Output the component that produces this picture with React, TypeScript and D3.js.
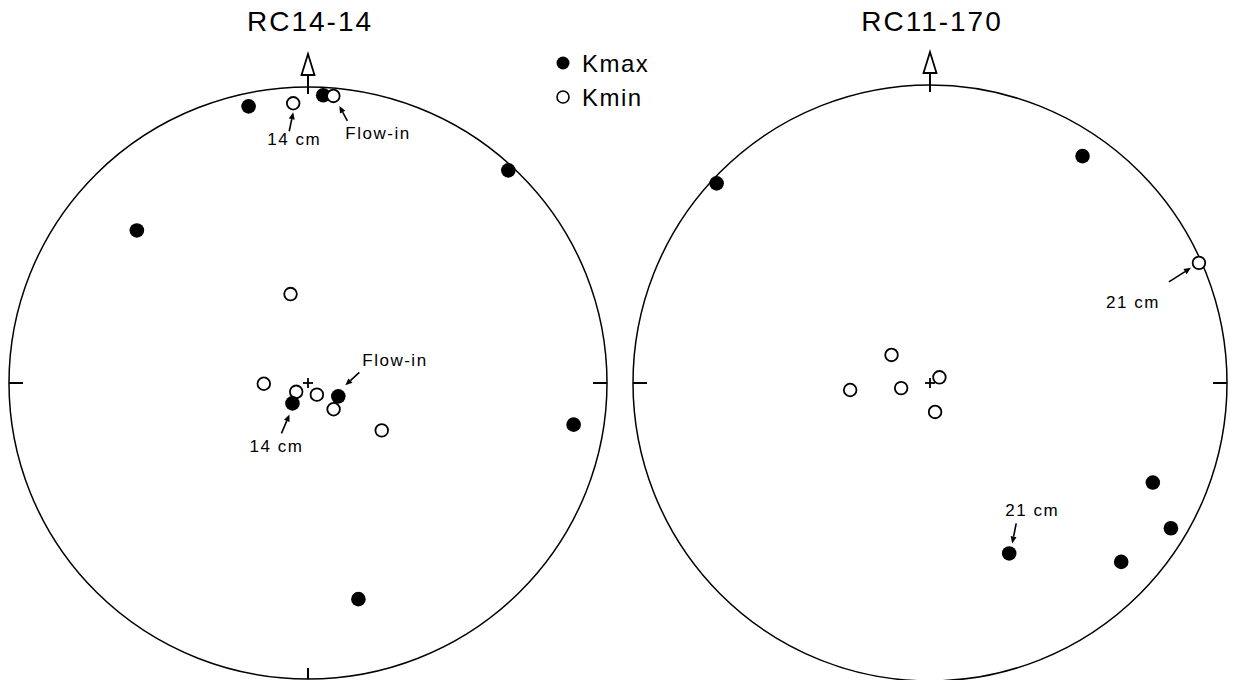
import React from "react";
import * as d3 from "d3";

// Anisotropy principal axes, lower-hemisphere equal-area net: [trend°, plunge°]
const leftKmax: [number, number][] = [
  [348, 5], [3, 3], [43, 2], [312, 24], [217, 83], [114, 81], [99, 11], [167, 26],
];
const leftKmin: [number, number][] = [
  [357, 6], [5, 3], [349, 65], [269, 78], [233, 86], [143, 86], [136, 80], [123, 66],
];
const rightKmax: [number, number][] = [
  [313, 2], [34, 9], [114, 19], [121, 6], [133, 13], [155, 37],
];
const rightKmin: [number, number][] = [
  [306, 77], [265, 68], [260, 82], [59, 87], [170, 82], [66, 1],
];

const coreTitles = ["RC14-14", "RC11-170"];
const legendLabels = ["Kmax", "Kmin"];

const W = 1234;
const H = 680;
const FONT = "'Liberation Sans', Arial, sans-serif";

// equal-area: radius² proportional to (1 - sin plunge)
const radial = d3.scaleRadial().domain([0, 1]).range([0, 1]);

type Net = { cx: number; cy: number; rx: number; ry: number };

function project(net: Net, [trend, plunge]: [number, number]): [number, number] {
  const t = (trend * Math.PI) / 180;
  const p = (plunge * Math.PI) / 180;
  const r = radial(1 - Math.sin(p));
  return [net.cx + net.rx * r * Math.sin(t), net.cy - net.ry * r * Math.cos(t)];
}

type Note = {
  series: "max" | "min";
  index: number;
  text: string;
  tx: number; // label offset from point
  ty: number;
  anchor: "start" | "middle";
  a0: [number, number]; // arrow tail offset from point
  a1: [number, number]; // arrow tip offset from point
};

function Arrow({ x0, y0, x1, y1 }: { x0: number; y0: number; x1: number; y1: number }) {
  const ang = Math.atan2(y1 - y0, x1 - x0);
  const L = 7;
  const w = 3;
  const bx = x1 - L * Math.cos(ang);
  const by = y1 - L * Math.sin(ang);
  const px = -Math.sin(ang) * w;
  const py = Math.cos(ang) * w;
  return (
    <g>
      <line x1={x0} y1={y0} x2={bx} y2={by} stroke="#000" strokeWidth={1.6} />
      <path d={`M${x1},${y1}L${bx + px},${by + py}L${bx - px},${by - py}Z`} fill="#000" />
    </g>
  );
}

function Stereonet({
  net, title, kmax, kmin, notes, tickS,
}: {
  net: Net; title: string; kmax: [number, number][]; kmin: [number, number][]; notes: Note[]; tickS: boolean;
}) {
  const { cx, cy, rx, ry } = net;
  const top = cy - ry;
  const tick = 14;
  const maxPts = kmax.map((d) => project(net, d));
  const minPts = kmin.map((d) => project(net, d));
  // shallow Kmax underneath, then Kmin, then steep Kmax on top
  const shallowMax = maxPts.filter((_, i) => kmax[i][1] <= 45);
  const steepMax = maxPts.filter((_, i) => kmax[i][1] > 45);
  const dot = ([x, y]: [number, number], k: string) => (
    <circle key={k} cx={x} cy={y} r={7.3} fill="#000" />
  );
  return (
    <g>
      <text x={cx + 2} y={31} textAnchor="middle" fontFamily={FONT} fontSize={28} letterSpacing={2} fill="#000">
        {title}
      </text>
      <ellipse cx={cx} cy={cy} rx={rx} ry={ry} fill="none" stroke="#000" strokeWidth={1.5} />
      {/* E / W / S ticks */}
      <line x1={cx - rx} y1={cy} x2={cx - rx + tick} y2={cy} stroke="#000" strokeWidth={2} />
      <line x1={cx + rx} y1={cy} x2={cx + rx - tick} y2={cy} stroke="#000" strokeWidth={2} />
      {tickS && <line x1={cx} y1={cy + ry} x2={cx} y2={cy + ry - 11} stroke="#000" strokeWidth={2} />}
      {/* centre cross */}
      <line x1={cx - 5} y1={cy} x2={cx + 5} y2={cy} stroke="#000" strokeWidth={1.8} />
      <line x1={cx} y1={cy - 5} x2={cx} y2={cy + 5} stroke="#000" strokeWidth={1.8} />
      {/* north arrow */}
      <line x1={cx} y1={top - 12} x2={cx} y2={top + 7} stroke="#000" strokeWidth={2} />
      <path
        d={`M${cx},${top - 33}L${cx - 6.5},${top - 12}L${cx + 6.5},${top - 12}Z`}
        fill="#fff" stroke="#000" strokeWidth={1.8} strokeLinejoin="miter"
      />
      {shallowMax.map((p, i) => dot(p, `s${i}`))}
      {minPts.map(([x, y], i) => (
        <circle key={`n${i}`} cx={x} cy={y} r={6.3} fill="#fff" stroke="#000" strokeWidth={1.8} />
      ))}
      {steepMax.map((p, i) => dot(p, `t${i}`))}
      {notes.map((n, i) => {
        const [px, py] = (n.series === "max" ? maxPts : minPts)[n.index];
        return (
          <g key={`a${i}`}>
            <Arrow x0={px + n.a0[0]} y0={py + n.a0[1]} x1={px + n.a1[0]} y1={py + n.a1[1]} />
            <text
              x={px + n.tx} y={py + n.ty} textAnchor={n.anchor}
              fontFamily={FONT} fontSize={17} letterSpacing={1.5} fill="#000"
            >
              {n.text}
            </text>
          </g>
        );
      })}
    </g>
  );
}

const leftNet: Net = { cx: 308, cy: 383, rx: 299, ry: 296 };
const rightNet: Net = { cx: 930, cy: 383, rx: 297, ry: 298 };

const leftNotes: Note[] = [
  { series: "min", index: 0, text: "14 cm", tx: 1, ty: 42, anchor: "middle", a0: [-4, 28], a1: [0, 9] },
  { series: "min", index: 1, text: "Flow-in", tx: 12, ty: 43, anchor: "start", a0: [14, 25], a1: [6, 10] },
  { series: "max", index: 5, text: "Flow-in", tx: 24, ty: -30, anchor: "start", a0: [21, -24], a1: [7, -11] },
  { series: "max", index: 4, text: "14 cm", tx: -16, ty: 49, anchor: "middle", a0: [-11, 30], a1: [-3, 11] },
];
const rightNotes: Note[] = [
  { series: "min", index: 5, text: "21 cm", tx: -66, ty: 45, anchor: "middle", a0: [-30, 19], a1: [-8, 5] },
  { series: "max", index: 5, text: "21 cm", tx: 23, ty: -37, anchor: "middle", a0: [7, -30], a1: [3, -10] },
];

export default function App() {
  return (
    <svg
      width={W} height={H} viewBox={`0 0 ${W} ${H}`}
      style={{ position: "absolute", left: 0, top: 0, background: "#fff" }}
    >
      <rect width={W} height={H} fill="#fff" />
      <Stereonet net={leftNet} title={coreTitles[0]} kmax={leftKmax} kmin={leftKmin} notes={leftNotes} tickS />
      <Stereonet net={rightNet} title={coreTitles[1]} kmax={rightKmax} kmin={rightKmin} notes={rightNotes} tickS={false} />
      {/* legend */}
      <g fontFamily={FONT} fontSize={24} letterSpacing={1.5}>
        <circle cx={563} cy={63} r={6.5} fill="#000" />
        <text x={582} y={72} fill="#000">{legendLabels[0]}</text>
        <circle cx={563} cy={97} r={6} fill="#fff" stroke="#000" strokeWidth={1.6} />
        <text x={582} y={106} fill="#000">{legendLabels[1]}</text>
      </g>
    </svg>
  );
}
